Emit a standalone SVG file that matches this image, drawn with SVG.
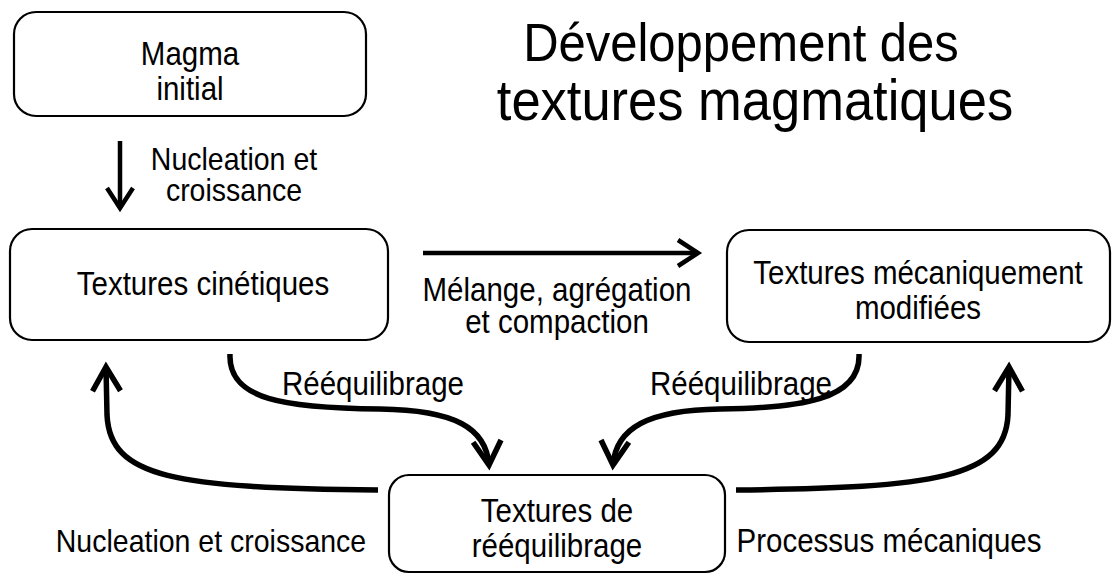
<svg xmlns="http://www.w3.org/2000/svg" width="1114" height="575" viewBox="0 0 1114 575">
<style>
  .box { fill: #fff; stroke: #000; stroke-width: 2.2; }
  .lbl { font-family: "Liberation Sans", Arial, sans-serif; font-size: 29.5px; fill: #000; text-anchor: middle; }
  .elbl { font-family: "Liberation Sans", Arial, sans-serif; font-size: 29.5px; fill: #000; text-anchor: middle; }
  .nlbl { font-family: "Liberation Sans", Arial, sans-serif; font-size: 28.5px; fill: #000; text-anchor: middle; }
  .title { font-family: "Liberation Sans", Arial, sans-serif; fill: #000; text-anchor: middle; }
  .conn { fill: none; stroke: #000; stroke-width: 5.5; marker-end: url(#arrBig); }
  .straight { fill: none; stroke: #000; stroke-width: 4.5; marker-end: url(#arrSmall); }
</style>
<defs>
  <marker id="arrBig" markerUnits="userSpaceOnUse" markerWidth="60" markerHeight="60" viewBox="-30 -30 60 60" refX="0" refY="0" orient="auto" overflow="visible">
    <path d="M-24,-14 L0,0 L-24,14" fill="none" stroke="#000" stroke-width="5.5" stroke-linejoin="miter"/>
  </marker>
  <marker id="arrSmall" markerUnits="userSpaceOnUse" markerWidth="60" markerHeight="60" viewBox="-30 -30 60 60" refX="0" refY="0" orient="auto" overflow="visible">
    <path d="M-20,-13 L0,0 L-20,13" fill="none" stroke="#000" stroke-width="4.5" stroke-linejoin="miter"/>
  </marker>
</defs>
<rect width="1114" height="575" fill="#fff"/>
<g id="title">
  <text class="title" font-size="49" x="741" y="61" transform="matrix(1 0 0 1.08 0 -4.88)">Développement des</text>
  <text class="title" font-size="52.5" x="755" y="120" transform="matrix(1 0 0 1.08 0 -9.6)">textures magmatiques</text>
</g>
<g id="magma">
  <rect class="box" x="14" y="12" width="352" height="104" rx="22"/>
  <text class="lbl" x="190" y="65" transform="matrix(1 0 0 1.12 0 -7.8)">Magma</text>
  <text class="lbl" x="190" y="100" transform="matrix(1 0 0 1.12 0 -12)">initial</text>
</g>
<g id="cinetiques">
  <rect class="box" x="10" y="229" width="378" height="111" rx="22"/>
  <text class="lbl" x="203" y="295" transform="matrix(1 0 0 1.12 0 -35.4)">Textures cinétiques</text>
</g>
<g id="mecaniques">
  <rect class="box" x="727" y="230" width="383" height="112" rx="22"/>
  <text class="lbl" x="918" y="284" transform="matrix(1 0 0 1.12 0 -34.08)">Textures mécaniquement</text>
  <text class="lbl" x="918" y="319" transform="matrix(1 0 0 1.12 0 -38.28)">modifiées</text>
</g>
<g id="reequilibrage">
  <rect class="box" x="389" y="475" width="336" height="97" rx="20"/>
  <text class="lbl" x="557" y="522" transform="matrix(1 0 0 1.12 0 -62.64)">Textures de</text>
  <text class="lbl" x="557" y="557" transform="matrix(1 0 0 1.12 0 -66.84)">rééquilibrage</text>
</g>
<g id="connectors">
  <path class="straight" d="M120,141 L120,208"/>
  <path class="straight" d="M423,253 L698,253"/>
  <path class="conn" d="M230,354 C228,400 285,408 380,409 C455,410 486,428 489,465"/>
  <path class="conn" d="M859,354 C861,400 800,408 720,409 C648,410 616,428 613,465"/>
  <path class="conn" d="M378,490 C175,488 110,478 107,415 L106,367"/>
  <path class="conn" d="M736,490 C935,488 1005,478 1008,415 L1009,367"/>
  <text class="nlbl" x="234" y="170" transform="matrix(1 0 0 1.12 0 -20.4)">Nucleation et</text>
  <text class="nlbl" x="234" y="201" transform="matrix(1 0 0 1.12 0 -24.12)">croissance</text>
  <text class="elbl" x="557" y="301" transform="matrix(1 0 0 1.12 0 -36.12)">Mélange, agrégation</text>
  <text class="elbl" x="557" y="333" transform="matrix(1 0 0 1.12 0 -39.96)">et compaction</text>
  <text class="elbl" x="373" y="395" transform="matrix(1 0 0 1.12 0 -47.4)">Rééquilibrage</text>
  <text class="elbl" x="741" y="395" transform="matrix(1 0 0 1.12 0 -47.4)">Rééquilibrage</text>
  <text class="nlbl" x="211" y="552" transform="matrix(1 0 0 1.12 0 -66.24)">Nucleation et croissance</text>
  <text class="elbl" x="889" y="552" transform="matrix(1 0 0 1.12 0 -66.24)">Processus mécaniques</text>
</g>
</svg>
